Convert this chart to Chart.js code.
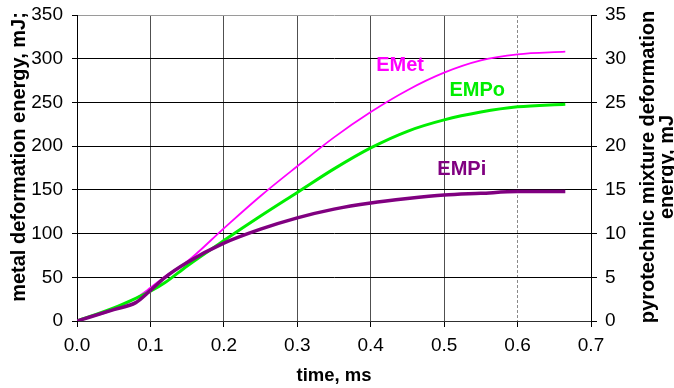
<!DOCTYPE html>
<html>
<head>
<meta charset="utf-8">
<script src="https://cdn.jsdelivr.net/npm/chart.js@4.4.0/dist/chart.umd.min.js"></script>
<style>
    html, body { margin: 0; padding: 0; background: #fff; }
    #wrap { width: 674px; height: 388px; }
</style>
</head>
<body>
<div id="wrap"><canvas id="energyChart" width="674" height="388"></canvas></div>
<script>
// time, ms
const timeMs = [0, 0.05, 0.08, 0.1, 0.12, 0.15, 0.2, 0.25, 0.3, 0.35, 0.4, 0.45, 0.5, 0.55, 0.6, 0.665];
// metal deformation energy, mJ (left axis)
const eMet = [0, 13, 26, 38, 51, 68, 106, 143, 177, 210, 239, 264, 284, 298, 305, 308];
// pyrotechnic mixture deformation energy, mJ (right axis)
const eMPo = [0, 1.5, 2.6, 3.4, 4.4, 6.3, 9.2, 12.0, 14.7, 17.4, 19.8, 21.7, 23.0, 23.9, 24.5, 24.8];
const eMPi = [0, 1.3, 2.1, 3.5, 5.0, 6.7, 8.9, 10.5, 11.8, 12.8, 13.5, 14.0, 14.4, 14.6, 14.8, 14.8];

const xTicks = [0, 0.1, 0.2, 0.3, 0.4, 0.5, 0.6, 0.7];
const leftTicks = [0, 50, 100, 150, 200, 250, 300, 350];
const rightTicks = [0, 5, 10, 15, 20, 25, 30, 35];

const FONT = 'Liberation Sans, Arial, sans-serif';

const toPoints = (ys) => ys.map((y, i) => ({ x: timeMs[i], y: y }));

// fixed axis box sizes, no extra room for overhanging labels
const fixBox = (w, h) => (scale) => {
    if (w !== null) scale.width = w;
    if (h !== null) scale.height = h;
    scale.paddingTop = 0;
    scale.paddingBottom = 0;
    scale.paddingLeft = 0;
    scale.paddingRight = 0;
};

// axis titles and curve names, drawn on top of the chart
const textPlugin = {
    id: 'textLayer',
    afterDraw(chart) {
        const { ctx, chartArea, scales } = chart;
        ctx.save();
        ctx.fillStyle = '#000';
        ctx.textAlign = 'center';
        ctx.textBaseline = 'middle';

        // left title
        ctx.font = 'bold 20px ' + FONT;
        ctx.save();
        ctx.translate(19, 157);
        ctx.rotate(-Math.PI / 2);
        ctx.fillText('metal deformation energy, mJ;', 0, 0);
        ctx.restore();

        // right title, two lines
        ctx.save();
        ctx.translate(648, 167);
        ctx.rotate(-Math.PI / 2);
        ctx.fillText('pyrotechnic mixture deformation', 0, 0);
        ctx.fillText('energy, mJ', 0, 19);
        ctx.restore();

        // x title
        ctx.font = 'bold 18.5px ' + FONT;
        ctx.fillText('time, ms', (chartArea.left + chartArea.right) / 2, 376);

        // curve names
        ctx.font = 'bold 20px ' + FONT;
        const names = [
            { text: 'EMet', color: '#ff00ff', x: 0.44, y: 292, axis: 'y' },
            { text: 'EMPo', color: '#00ee00', x: 0.545, y: 26.4, axis: 'y2' },
            { text: 'EMPi', color: '#800080', x: 0.524, y: 17.3, axis: 'y2' }
        ];
        names.forEach(n => {
            ctx.fillStyle = n.color;
            ctx.fillText(n.text, scales.x.getPixelForValue(n.x), scales[n.axis].getPixelForValue(n.y));
        });
        ctx.restore();
    }
};

const ctx = document.getElementById('energyChart');

new Chart(ctx, {
    type: 'line',
    data: {
        datasets: [
            {
                label: 'EMPi',
                data: toPoints(eMPi),
                yAxisID: 'y2',
                borderColor: '#800080',
                borderWidth: 3.5
            },
            {
                label: 'EMPo',
                data: toPoints(eMPo),
                yAxisID: 'y2',
                borderColor: '#00ee00',
                borderWidth: 3
            },
            {
                label: 'EMet',
                data: toPoints(eMet),
                yAxisID: 'y',
                borderColor: '#ff00ff',
                borderWidth: 1.8
            }
        ]
    },
    options: {
        responsive: false,
        animation: false,
        devicePixelRatio: 1,
        layout: { padding: { top: 15, left: 0, right: 0, bottom: 0 } },
        elements: {
            point: { radius: 0 },
            line: { cubicInterpolationMode: 'monotone', fill: false }
        },
        plugins: {
            legend: { display: false },
            tooltip: { enabled: false }
        },
        scales: {
            x: {
                type: 'linear',
                position: 'bottom',
                min: 0,
                max: 0.7,
                afterBuildTicks: (scale) => { scale.ticks = xTicks.map(v => ({ value: v })); },
                afterFit: fixBox(null, 67),
                ticks: {
                    color: '#000',
                    font: { family: FONT, size: 19 },
                    padding: 7,
                    maxRotation: 0,
                    callback: (v) => Number(v).toFixed(1)
                },
                grid: {
                    color: (c) => {
                        const v = Math.round(c.tick.value * 10);
                        if (v === 0 || v === 7) return '#000';
                        if (v === 6) return '#8a8a8a';
                        return '#505050';
                    },
                    tickColor: '#000',
                    tickLength: 6
                },
                border: {
                    color: '#303030',
                    dash: (c) => (c.tick && Math.round(c.tick.value * 10) === 6 ? [3, 2] : [])
                }
            },
            y: {
                position: 'left',
                min: 0,
                max: 350,
                afterBuildTicks: (scale) => { scale.ticks = leftTicks.map(v => ({ value: v })); },
                afterFit: fixBox(77, null),
                ticks: {
                    color: '#000',
                    font: { family: FONT, size: 19 },
                    padding: 9
                },
                grid: {
                    color: (c) => (c.tick.value === 350 ? '#9a9a9a' : '#000'),
                    tickColor: '#000',
                    tickLength: 5
                },
                border: { color: '#000' }
            },
            y2: {
                position: 'right',
                min: 0,
                max: 35,
                afterBuildTicks: (scale) => { scale.ticks = rightTicks.map(v => ({ value: v })); },
                afterFit: fixBox(83, null),
                ticks: {
                    color: '#000',
                    font: { family: FONT, size: 19 },
                    padding: 8
                },
                grid: {
                    drawOnChartArea: false,
                    tickColor: '#000',
                    tickLength: 6
                },
                border: { color: '#000' }
            }
        }
    },
    plugins: [textPlugin]
});
</script>
</body>
</html>
